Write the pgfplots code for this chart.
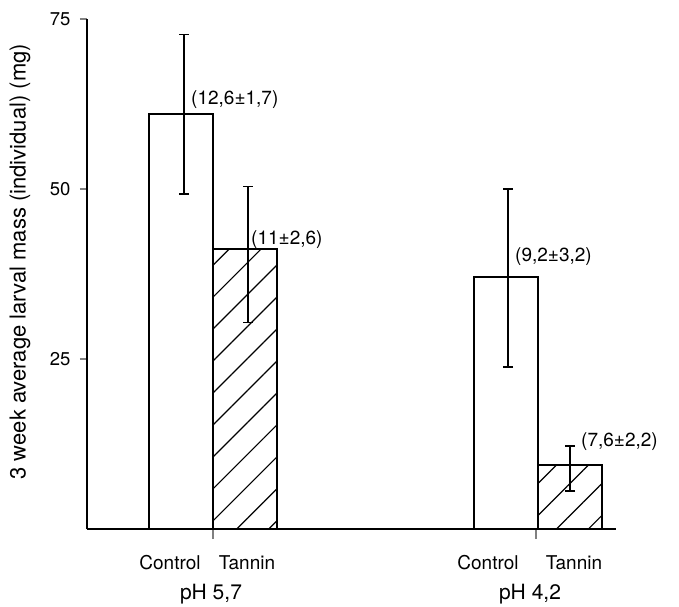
\documentclass[border=0pt]{standalone}
\usepackage{fontspec}
\setmainfont{TeX Gyre Heros}
\usepackage{pgfplots}
\pgfplotsset{compat=1.18}
\usetikzlibrary{patterns.meta}
\begin{document}
\begin{tikzpicture}
\useasboundingbox (-87pt,-77pt) rectangle (592pt,529pt);
\begin{axis}[
  scale only axis,
  width=529pt, height=510pt,
  xmin=87, xmax=616, ymin=0, ymax=75,
  axis x line*=bottom, axis y line*=left,
  axis line style={line width=2.2pt},
  ytick={25,50,75},
  xtick={213,536}, xticklabels={},
  tick align=outside,
  major tick length=7pt,
  xtick style={line width=1.6pt, /pgfplots/major tick length=10pt},
  ytick style={line width=1.8pt},
  /pgf/number format/assume math mode=true,
  tick label style={font=\fontsize{18.5}{20}\selectfont},
  yticklabel style={xshift=-6pt},
  clip=false,
]
\addplot[ybar, bar width=64, bar shift=0pt, draw=black, line width=1.6pt, fill=white]
  coordinates {(181,61.0) (506,37.1)};
\addplot[ybar, bar width=64, bar shift=0pt, draw=black, line width=1.6pt,
  pattern={Lines[angle=45,distance=22.6pt,line width=1.2pt]}]
  coordinates {(245,41.2) (570,9.4)};
\addplot[draw=none, forget plot,
  error bars/.cd, y dir=both, y explicit,
  error bar style={draw=black, line width=1.5pt},
  error mark options={draw=black, rotate=90, mark size=5pt, line width=1.5pt}]
  coordinates {(184,61.0) +- (0,11.7) (248,40.4) +- (0,10.0) (508,36.9) +- (0,13.1) (570,8.9) +- (0,3.3)};
\path[font=\fontsize{19}{21}\selectfont]
  (axis cs:190,63.2) node[anchor=west, inner sep=1pt] {(12,6±1,7)}
  (axis cs:250,42.6) node[anchor=west, inner sep=1pt] {(11±2,6)}
  (axis cs:514,40.0) node[anchor=west, inner sep=1pt] {(9,2±3,2)}
  (axis cs:580,12.9) node[anchor=west, inner sep=1pt] {(7,6±2,2)}
  (axis cs:170,-5.0) node {Control}
  (axis cs:247,-5.0) node {Tannin}
  (axis cs:488,-5.0) node {Control}
  (axis cs:574,-5.0) node {Tannin};
\path[font=\fontsize{21}{24}\selectfont]
  (axis cs:211,-9.6) node {pH 5,7}
  (axis cs:530,-9.6) node {pH 4,2};
\node[rotate=90, font=\fontsize{22}{24}\selectfont] at (axis cs:20,39.3) {3 week average larval mass (individual) (mg)};
\end{axis}
\end{tikzpicture}
\end{document}
